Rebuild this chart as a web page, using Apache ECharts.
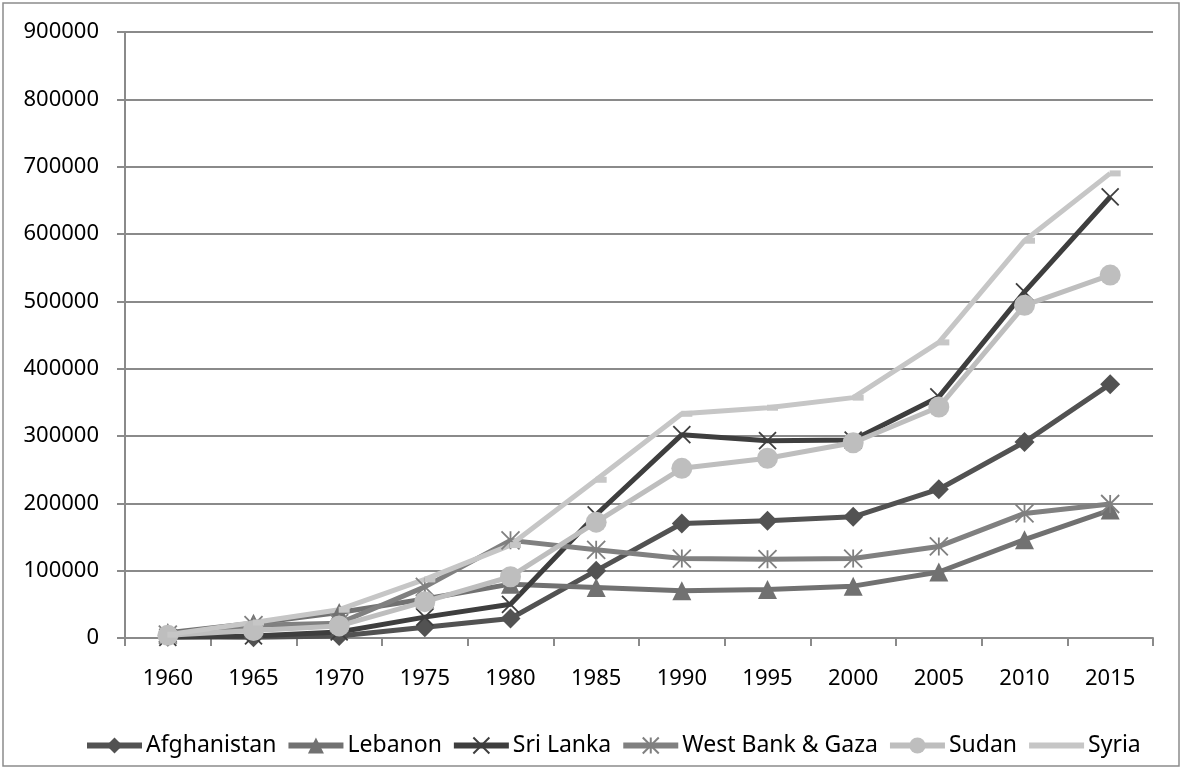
<!DOCTYPE html>
<html>
<head>
<meta charset="utf-8">
<script src="https://cdn.jsdelivr.net/npm/echarts@6/dist/echarts.min.js"></script>
<style>
  html, body { margin: 0; padding: 0; background: #fff; }
  #chart { width: 1182px; height: 769px; }
</style>
</head>
<body>
<div id="chart"></div>
<script>
// Population by year, one list per place
const years = ['1960', '1965', '1970', '1975', '1980', '1985', '1990', '1995', '2000', '2005', '2010', '2015'];
const afghanistan = [2000, 1000, 3000, 16000, 29000, 100000, 170000, 174000, 180000, 221000, 291000, 377000];
const lebanon = [8000, 22000, 38000, 58000, 80000, 75000, 70000, 72000, 77000, 98000, 146000, 190000];
const sriLanka = [1000, 3000, 9000, 31000, 50000, 183000, 302000, 293000, 294000, 358000, 514000, 655000];
const westBankGaza = [5000, 19000, 22000, 76000, 145000, 131000, 118000, 117000, 118000, 136000, 185000, 199000];
const sudan = [4000, 11000, 18000, 54000, 91000, 172000, 252000, 267000, 290000, 343000, 494000, 539000];
const syria = [5000, 23000, 42000, 87000, 138000, 235000, 333000, 342000, 357000, 439000, 590000, 690000];

const FONT = 'Noto Sans';
const GRID_GRAY = '#8a8a8a';

function lineSeries(name, data, color, symbol, symbolSize, extra) {
  const s = {
    name: name,
    type: 'line',
    data: data,
    symbol: symbol,
    symbolSize: symbolSize,
    showAllSymbol: true,
    lineStyle: { color: color, width: 5 },
    itemStyle: { color: color, borderWidth: 0, opacity: 1 },
    emphasis: { disabled: true },
    animation: false
  };
  return Object.assign(s, extra || {});
}

const crossPath = 'path://M0,0 L10,10 M10,0 L0,10';
const starPath = 'path://M5,0 L5,10 M0,0 L10,10 M10,0 L0,10';

const chart = echarts.init(document.getElementById('chart'), null, { renderer: 'canvas' });
chart.setOption({
  backgroundColor: '#ffffff',
  animation: false,
  grid: { left: 125, right: 29, top: 32, bottom: 131, containLabel: false },
  legend: {
    top: 729,
    left: 79,
    width: 1095,
    orient: 'horizontal',
    itemWidth: 55,
    itemHeight: 20,
    itemGap: 9,
    lineStyle: { width: 6 },
    textStyle: { fontFamily: FONT, fontSize: 23, color: '#000', padding: [0, 0, 0, -1] },
    data: [
      'Afghanistan', 'Lebanon', 'Sri Lanka', 'West Bank & Gaza', 'Sudan',
      { name: 'Syria', itemStyle: { opacity: 0 } }
    ]
  },
  xAxis: {
    type: 'category',
    data: years,
    boundaryGap: true,
    axisLine: { lineStyle: { color: GRID_GRAY, width: 2 } },
    axisTick: { show: true, length: 8, inside: false, alignWithLabel: false, lineStyle: { color: GRID_GRAY, width: 2 } },
    axisLabel: { fontFamily: FONT, fontSize: 22, color: '#000', margin: 30 },
    splitLine: { show: false }
  },
  yAxis: {
    type: 'value',
    min: 0,
    max: 900000,
    interval: 100000,
    axisLine: { show: true, lineStyle: { color: GRID_GRAY, width: 2 } },
    axisTick: { show: true, length: 8, lineStyle: { color: GRID_GRAY, width: 2 } },
    axisLabel: { fontFamily: FONT, fontSize: 22, color: '#000', margin: 26, formatter: v => String(v) },
    splitLine: { show: true, lineStyle: { color: GRID_GRAY, width: 2 } }
  },
  series: [
    lineSeries('Afghanistan', afghanistan, '#525252', 'diamond', 20),
    lineSeries('Lebanon', lebanon, '#717171', 'triangle', 19),
    lineSeries('Sri Lanka', sriLanka, '#3e3e3e', crossPath, 17,
      { itemStyle: { color: 'transparent', borderColor: '#3e3e3e', borderWidth: 1.8 } }),
    lineSeries('West Bank & Gaza', westBankGaza, '#808080', starPath, 18,
      { itemStyle: { color: 'transparent', borderColor: '#808080', borderWidth: 1.8 } }),
    lineSeries('Sudan', sudan, '#bebebe', 'circle', 21),
    lineSeries('Syria', syria, '#c6c6c6', 'rect', [11, 6], { symbolOffset: [5, 0] })
  ],
  graphic: [{
    type: 'rect',
    shape: { x: 3, y: 3, width: 1176, height: 763 },
    style: { fill: 'none', stroke: '#8c8c8c', lineWidth: 1.5 },
    silent: true,
    z: 100
  }]
});
</script>
</body>
</html>
